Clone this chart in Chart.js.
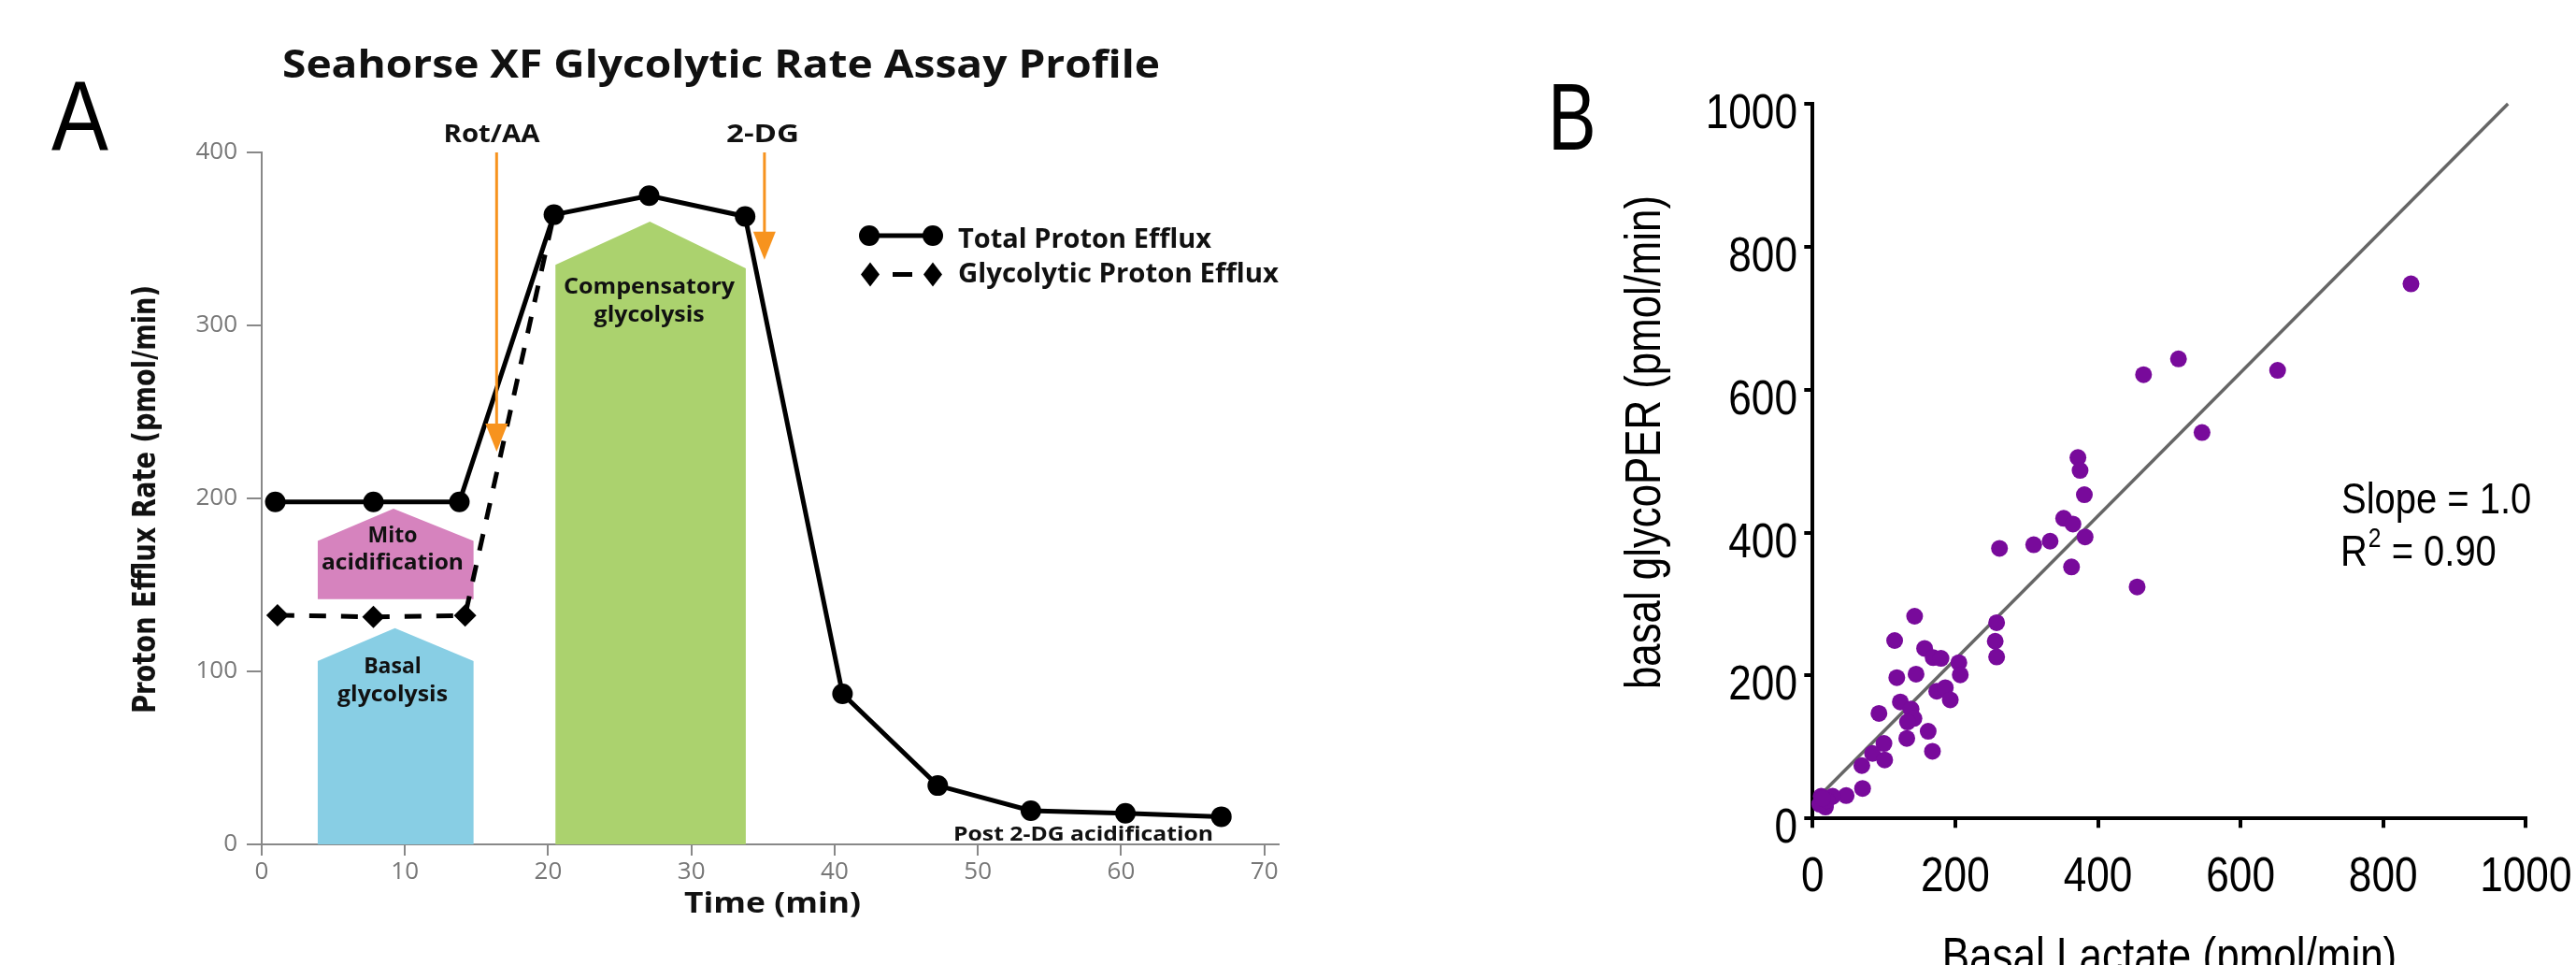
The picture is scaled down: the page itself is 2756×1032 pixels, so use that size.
<!DOCTYPE html>
<html>
<head>
<meta charset="utf-8">
<script src="https://cdn.jsdelivr.net/npm/chart.js@4.4.1/dist/chart.umd.min.js"></script>
<style>
  html, body { margin: 0; padding: 0; background: #ffffff; }
  #wrap { position: relative; width: 2756px; height: 1032px; overflow: hidden; background: #fff; }
  canvas { position: absolute; top: 0; }
</style>
</head>
<body>
<div id="wrap">
  <canvas id="chartA" width="1560" height="1032" style="left:0;width:1560px;height:1032px"></canvas>
  <canvas id="chartB" width="1196" height="1032" style="left:1560px;width:1196px;height:1032px"></canvas>
</div>
<script>
// ---------------- Panel A data ----------------
const timeTotal = [0.95, 7.8, 13.8, 20.4, 27.05, 33.75, 40.55, 47.2, 53.7, 60.3, 67.0];
const totalPER  = [198, 198, 198, 364, 375, 363, 87, 34, 19.5, 18, 16];
const timeGlyco = [1.1, 7.8, 14.2, 20.4];
const glycoPER  = [132.5, 131.5, 132.3, 364];
const xTicksA   = [0, 10, 20, 30, 40, 50, 60, 70];
const yTicksA   = [0, 100, 200, 300, 400];

// shaded region outlines (time, rate)
const basalX = [3.9, 3.9, 9.3, 14.8, 14.8];
const basalY = [0, 106, 125, 106, 0];
const mitoX  = [3.9, 3.9, 9.2, 14.8, 14.8];
const mitoY  = [141.8, 175.4, 194, 175.4, 141.8];
const mitoBase = 141.8;
const compX  = [20.5, 20.5, 27.1, 33.8, 33.8];
const compY  = [0, 335, 360, 333, 0];

// injection arrows
const injLabels = ['Rot/AA', '2-DG'];
const injTime   = [16.4, 35.1];
const injTip    = [227, 338];
const injTop    = 400;

// ---------------- Panel B data ----------------
const lactate = [839, 464, 513, 652, 546, 372, 375, 381, 352, 365, 333, 310, 382, 363, 262, 455,
                 143, 115, 157, 169, 180, 205, 207, 145, 118, 258, 256, 258, 174, 186, 193, 123,
                 138, 142, 133, 93, 100, 132, 162, 168, 84, 101, 69, 70, 47, 28, 12, 18, 10, 20, 14];
const glycoPERb = [748, 621, 643, 627, 540, 505, 487, 453, 420, 412, 388, 383, 394, 352, 378, 324,
                 283, 249, 238, 225, 224, 218, 201, 202, 197, 274, 248, 226, 178, 183, 166, 163,
                 153, 140, 135, 147, 105, 112, 122, 94, 91, 82, 74, 42, 32, 31, 31, 16, 20, 25, 28];
const fitX = [0, 975];
const fitY = [22, 1000];
const ticksB = [0, 200, 400, 600, 800, 1000];

// ---------------- helpers ----------------
const SANS = '"Liberation Sans", Arial, sans-serif';
const OPEN = '"Open Sans", "Noto Sans", sans-serif';

// draw text; targetW fits the width, sx gives a fixed horizontal squeeze
function txt(ctx, s, x, y, font, color, align, targetW, sx0) {
  ctx.save();
  ctx.font = font;
  ctx.fillStyle = color;
  ctx.textBaseline = 'alphabetic';
  ctx.textAlign = align || 'left';
  const w = ctx.measureText(s).width;
  const sx = targetW ? targetW / w : (sx0 || 1);
  ctx.translate(x, y);
  ctx.scale(sx, 1);
  ctx.fillText(s, 0, 0);
  ctx.restore();
  return w * sx;
}
function pts(xa, ya) { return xa.map((v, i) => ({ x: v, y: ya[i] })); }

// ---------------- Panel A ----------------
const annA = {
  id: 'annA',
  afterDraw(chart) {
    const ctx = chart.ctx;
    const xs = chart.scales.x, ys = chart.scales.y;
    // arrows
    ctx.save();
    ctx.strokeStyle = '#F7931E';
    ctx.fillStyle = '#F7931E';
    ctx.lineWidth = 3;
    for (let i = 0; i < injTime.length; i++) {
      const X = xs.getPixelForValue(injTime[i]);
      const Y0 = ys.getPixelForValue(injTop);
      const Yt = ys.getPixelForValue(injTip[i]);
      ctx.beginPath();
      ctx.moveTo(X, Y0);
      ctx.lineTo(X, Yt - 28);
      ctx.stroke();
      ctx.beginPath();
      ctx.moveTo(X - 12, Yt - 30);
      ctx.lineTo(X + 12, Yt - 30);
      ctx.lineTo(X, Yt);
      ctx.closePath();
      ctx.fill();
    }
    ctx.restore();

    const B = (s) => '700 ' + s + 'px ' + OPEN;
    const dark = '#111111';
    // title
    txt(ctx, 'Seahorse XF Glycolytic Rate Assay Profile', 771.5, 83, B(42), dark, 'center', 939);
    // panel letter
    txt(ctx, 'A', 55, 160, '400 105px ' + SANS, '#000', 'left', null, 0.87);
    // injection labels
    txt(ctx, injLabels[0], 526, 152, B(27), dark, 'center', 103);
    txt(ctx, injLabels[1], 816, 152, B(27), dark, 'center', 78);
    // region labels
    txt(ctx, 'Compensatory', 694.6, 313.5, B(23), dark, 'center', 183);
    txt(ctx, 'glycolysis', 694.6, 343.5, B(23), dark, 'center', 118);
    txt(ctx, 'Mito', 420, 580, B(23), dark, 'center');
    txt(ctx, 'acidification', 420, 608.5, B(23), dark, 'center', 152);
    txt(ctx, 'Basal', 420, 720, B(23), dark, 'center');
    txt(ctx, 'glycolysis', 420, 749.5, B(23), dark, 'center', 118);
    txt(ctx, 'Post 2-DG acidification', 1020, 899, B(22), dark, 'left', 278);
    // axis titles
    txt(ctx, 'Time (min)', 826.5, 976, B(30), dark, 'center', 189);
    ctx.save();
    ctx.translate(166, 534);
    ctx.rotate(-Math.PI / 2);
    txt(ctx, 'Proton Efflux Rate (pmol/min)', 0, 0, '700 34px "DejaVu Sans", sans-serif', dark, 'center', 458);
    ctx.restore();

    // legend
    ctx.save();
    ctx.fillStyle = '#000'; ctx.strokeStyle = '#000'; ctx.lineWidth = 5;
    ctx.beginPath(); ctx.moveTo(930, 252); ctx.lineTo(998, 252); ctx.stroke();
    [930, 998].forEach(cx => { ctx.beginPath(); ctx.arc(cx, 252, 11, 0, Math.PI * 2); ctx.fill(); });
    ctx.beginPath(); ctx.moveTo(955, 293.5); ctx.lineTo(976, 293.5); ctx.stroke();
    [931, 998].forEach(cx => {
      ctx.beginPath();
      ctx.moveTo(cx, 293.5 - 13); ctx.lineTo(cx + 10, 293.5); ctx.lineTo(cx, 293.5 + 13); ctx.lineTo(cx - 10, 293.5);
      ctx.closePath(); ctx.fill();
    });
    ctx.restore();
    txt(ctx, 'Total Proton Efflux', 1025, 265, B(28), dark, 'left', 271);
    txt(ctx, 'Glycolytic Proton Efflux', 1025, 302, B(28), dark, 'left', 343);
  }
};

new Chart(document.getElementById('chartA'), {
  type: 'line',
  data: {
    datasets: [
      { label: 'Total Proton Efflux', data: pts(timeTotal, totalPER), order: 0,
        borderColor: '#000', backgroundColor: '#000', borderWidth: 5, pointStyle: 'circle',
        pointRadius: 11, pointBackgroundColor: '#000', pointBorderWidth: 0, fill: false, tension: 0, clip: false },
      { label: 'Glycolytic Proton Efflux', data: pts(timeGlyco, glycoPER), order: 1,
        borderColor: '#000', backgroundColor: '#000', borderWidth: 5, borderDash: [18, 16], pointStyle: 'rectRot',
        pointRadius: [12, 12, 12, 0], pointBackgroundColor: '#000', pointBorderWidth: 0, fill: false, tension: 0, clip: false },
      { label: 'Mito acidification', data: pts(mitoX, mitoY), order: 5, borderWidth: 0, pointRadius: 0,
        backgroundColor: '#D683BE', borderColor: 'rgba(0,0,0,0)', fill: { value: mitoBase }, tension: 0 },
      { label: 'Basal glycolysis', data: pts(basalX, basalY), order: 5, borderWidth: 0, pointRadius: 0,
        backgroundColor: '#88CEE4', borderColor: 'rgba(0,0,0,0)', fill: 'origin', tension: 0 },
      { label: 'Compensatory glycolysis', data: pts(compX, compY), order: 5, borderWidth: 0, pointRadius: 0,
        backgroundColor: '#ABD26E', borderColor: 'rgba(0,0,0,0)', fill: 'origin', tension: 0 }
    ]
  },
  options: {
    responsive: false, animation: false, devicePixelRatio: 1,
    layout: { padding: { top: 163, right: 192, left: 0, bottom: 0 } },
    plugins: { legend: { display: false }, tooltip: { enabled: false }, title: { display: false } },
    scales: {
      x: {
        type: 'linear', min: 0, max: 71,
        afterFit: (s) => { s.height = 129; },
        afterBuildTicks: (s) => { s.ticks = xTicksA.map(v => ({ value: v })); },
        border: { display: true, color: '#888', width: 2 },
        grid: { display: true, drawOnChartArea: false, drawTicks: true, tickLength: 12, color: '#888', lineWidth: 2 },
        ticks: { color: '#777', font: { family: OPEN, size: 26 }, padding: 2, maxRotation: 0 }
      },
      y: {
        type: 'linear', min: 0, max: 400,
        afterFit: (s) => { s.width = 280; },
        afterBuildTicks: (s) => { s.ticks = yTicksA.map(v => ({ value: v })); },
        border: { display: true, color: '#888', width: 2 },
        grid: { display: true, drawOnChartArea: false, drawTicks: true, tickLength: 16, color: '#888', lineWidth: 2 },
        ticks: { color: '#777', font: { family: OPEN, size: 26 }, padding: 10 }
      }
    }
  },
  plugins: [annA]
});

// ---------------- Panel B ----------------
const NSX = 0.85; // horizontal squeeze to mimic a condensed face
const annB = {
  id: 'annB',
  afterDraw(chart) {
    const ctx = chart.ctx;
    const xs = chart.scales.x, ys = chart.scales.y;
    const F = (s) => '400 ' + s + 'px ' + SANS;
    // tick labels, placed through the scales
    ticksB.forEach(v => {
      txt(ctx, String(v), xs.getPixelForValue(v), 953, F(52), '#000', 'center', null, NSX);
      txt(ctx, String(v), 363, ys.getPixelForValue(v) + 26, F(52), '#000', 'right', null, NSX);
    });
    txt(ctx, 'B', 96, 160, F(102), '#000', 'left', null, 0.76);
    ctx.save();
    ctx.translate(215.5, 473);
    ctx.rotate(-Math.PI / 2);
    txt(ctx, 'basal glycoPER (pmol/min)', 0, 0, F(53), '#000', 'center', 528);
    ctx.restore();
    txt(ctx, 'Basal Lactate (pmol/min)', 761, 1040, F(53), '#000', 'center', null, 0.83);
    txt(ctx, 'Slope = 1.0', 945, 548.5, F(47), '#000', 'left', null, NSX);
    let x = 944;
    x += txt(ctx, 'R', x, 605, F(47), '#000', 'left', null, NSX);
    x += txt(ctx, '2', x + 1, 585, F(29), '#000', 'left', null, NSX) + 1;
    txt(ctx, ' = 0.90', x, 605, F(47), '#000', 'left', null, NSX);
  }
};

new Chart(document.getElementById('chartB'), {
  type: 'scatter',
  data: {
    datasets: [
      { label: 'samples', data: pts(lactate, glycoPERb), order: 0, pointRadius: 9, pointHoverRadius: 9,
        pointBackgroundColor: '#780A9B', pointBorderWidth: 0, backgroundColor: '#780A9B', showLine: false, clip: false },
      { label: 'fit', type: 'line', data: pts(fitX, fitY), order: 1, borderColor: '#666666', borderWidth: 3.5,
        pointRadius: 0, fill: false, tension: 0, clip: false }
    ]
  },
  options: {
    responsive: false, animation: false, devicePixelRatio: 1,
    layout: { padding: { top: 111, right: 53.7, left: 0, bottom: 0 } },
    plugins: { legend: { display: false }, tooltip: { enabled: false } },
    scales: {
      x: {
        type: 'linear', min: 0, max: 1000,
        afterFit: (s) => { s.height = 156.7; },
        afterBuildTicks: (s) => { s.ticks = ticksB.map(v => ({ value: v })); },
        border: { display: true, color: '#000', width: 4 },
        grid: { display: true, drawOnChartArea: false, drawTicks: true, tickLength: 10, color: '#000', lineWidth: 4 },
        ticks: { display: false }
      },
      y: {
        type: 'linear', min: 0, max: 1000,
        afterFit: (s) => { s.width = 379.3; },
        afterBuildTicks: (s) => { s.ticks = ticksB.map(v => ({ value: v })); },
        border: { display: true, color: '#000', width: 4 },
        grid: { display: true, drawOnChartArea: false, drawTicks: true, tickLength: 9, color: '#000', lineWidth: 4 },
        ticks: { display: false }
      }
    }
  },
  plugins: [annB]
});
</script>
</body>
</html>
